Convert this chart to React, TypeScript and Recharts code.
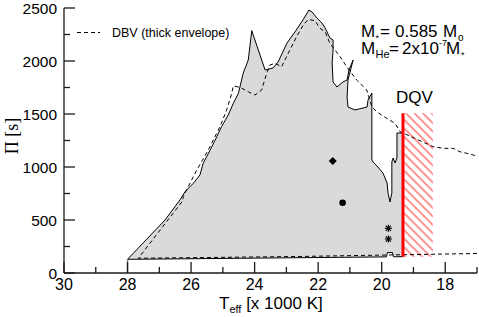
import React from "react";
import { Area, ComposedChart, Line, Scatter, XAxis, YAxis } from "recharts";

const FONT = "'Liberation Sans', Arial, Helvetica, sans-serif";
const SERIF = "'Liberation Serif', 'Times New Roman', serif";
const INK = "#1a1a1a";

// T_eff [x 1000 K] and period Pi [s]
const dbvThinOutline: [number, number][] = [
  [28.0, 129], [26.82, 500], [26.35, 689], [26.19, 767], [25.93, 846], [25.72, 925],
  [25.62, 1035], [25.4, 1160], [25.19, 1286], [25.04, 1380], [24.83, 1491], [24.67, 1601],
  [24.51, 1695], [24.46, 1758], [24.36, 1884], [24.2, 2009], [24.09, 2286], [23.67, 1915],
  [23.42, 1934], [23.26, 1991], [22.98, 2170], [22.73, 2274], [22.48, 2387], [22.29, 2481],
  [22.19, 2462], [22.04, 2406], [21.88, 2358], [21.78, 2311], [21.63, 2217], [21.53, 2198],
  [21.53, 2104], [21.56, 1981], [21.53, 1802], [21.41, 1755], [21.22, 1802], [21.09, 1821],
  [21.03, 1915], [20.9, 2009], [21.06, 1821], [21.09, 1660], [21.06, 1566], [20.84, 1538],
  [20.46, 1566], [20.43, 1632], [20.31, 1698], [20.31, 1066], [20.27, 1047], [20.12, 1000],
  [19.96, 943], [19.83, 849], [19.8, 755], [19.74, 670], [19.68, 755], [19.68, 1047],
  [19.64, 1085], [19.58, 1038], [19.52, 1085], [19.52, 1321], [19.39, 1321], [19.33, 1321],
  [19.33, 154], [19.63, 153], [19.66, 193], [19.82, 193], [19.85, 152], [28.0, 129],
];

const dbvThickEdge: [number, number][] = [
  [17.0, 184], [22.57, 156], [27.66, 139], [26.26, 682], [26.25, 720], [25.82, 972],
  [25.46, 1160], [25.09, 1380], [24.88, 1538], [24.72, 1695], [24.67, 1764], [24.46, 1752],
  [24.2, 1710], [23.99, 1679], [23.78, 1726], [23.62, 1884], [23.52, 1962], [23.36, 1978],
  [23.15, 1946], [22.89, 2104], [22.68, 2229], [22.47, 2340], [22.31, 2393], [22.1, 2380],
  [21.94, 2308], [21.78, 2276], [21.63, 2167], [21.31, 2041], [21.1, 1946], [20.79, 1821],
  [20.47, 1726], [20.31, 1569], [20.16, 1522], [19.84, 1459], [19.58, 1412], [19.42, 1333],
  [18.38, 1192], [18.06, 1176], [17.75, 1176], [17.54, 1144], [17.32, 1129], [17.12, 1113],
  [17.0, 1104],
];

const edgeStub: [number, number][] = [[28.0, 0], [28.0, 129]];

// DQV blue edge and its hatched band
const dqvBlueEdge: [number, number][] = [[19.33, 154], [19.33, 1507]];
const dqvBand: [number, number][] = [[19.33, 1507], [18.39, 1507]];
const dqvBandBase = 154;

const starDiamond: [number, number][] = [[21.54, 1057]];
const starCircle: [number, number][] = [[21.23, 663]];
const starAsterisk: [number, number][] = [[19.79, 422], [19.79, 321]];

const xTicks = [17, 18, 19, 20, 21, 22, 23, 24, 25, 26, 27, 28, 29, 30];
const yTicks = [0, 250, 500, 750, 1000, 1250, 1500, 1750, 2000, 2250, 2500];

const rows = (pts: [number, number][]) => pts.map(([T, P]) => ({ T, P }));

function BottomTick({ x, y, payload }: any) {
  const v = payload.value;
  const major = v % 2 === 0;
  return (
    <g>
      <line x1={x} x2={x} y1={y} y2={y - (major ? 11 : 6)} stroke={INK} strokeWidth={1.3} />
      {major && (
        <text x={x} y={y + 17} textAnchor="middle" fontSize={16} fontFamily={FONT} fill="#000">
          {v}
        </text>
      )}
    </g>
  );
}

function TopTick({ x, y, payload }: any) {
  const major = payload.value % 2 === 0;
  return <line x1={x} x2={x} y1={y} y2={y + (major ? 11 : 6)} stroke={INK} strokeWidth={1.3} />;
}

function LeftTick({ x, y, payload }: any) {
  const v = payload.value;
  const major = v % 500 === 0;
  return (
    <g>
      <line x1={x} x2={x + (major ? 11 : 6)} y1={y} y2={y} stroke={INK} strokeWidth={1.3} />
      {major && (
        <text x={x - 7} y={y} dy="0.36em" textAnchor="end" fontSize={15.5} fontFamily={FONT} fill="#000">
          {v}
        </text>
      )}
    </g>
  );
}

function RightTick({ x, y, payload }: any) {
  const major = payload.value % 500 === 0;
  return <line x1={x} x2={x - (major ? 11 : 6)} y1={y} y2={y} stroke={INK} strokeWidth={1.3} />;
}

const Diamond = ({ cx, cy }: any) => (
  <path d={`M${cx},${cy - 4}L${cx + 4},${cy}L${cx},${cy + 4}L${cx - 4},${cy}Z`} fill="#000" />
);
const Dot = ({ cx, cy }: any) => <circle cx={cx} cy={cy} r={3.3} fill="#000" />;
const Asterisk = ({ cx, cy }: any) => (
  <g stroke="#000" strokeWidth={1.2}>
    <line x1={cx - 3.5} x2={cx + 3.5} y1={cy} y2={cy} />
    <line x1={cx} x2={cx} y1={cy - 3.5} y2={cy + 3.5} />
    <line x1={cx - 2.6} x2={cx + 2.6} y1={cy - 2.6} y2={cy + 2.6} />
    <line x1={cx - 2.6} x2={cx + 2.6} y1={cy + 2.6} y2={cy - 2.6} />
  </g>
);

const frame = { stroke: INK, strokeWidth: 1.3 };

export default function App() {
  return (
    <div style={{ position: "absolute", left: 0, top: 0, background: "#fff" }}>
      <ComposedChart width={479} height={317} margin={{ top: 8, right: 2, bottom: 0, left: 0 }}>
        <defs>
          <pattern id="dqvHatch" patternUnits="userSpaceOnUse" width="6" height="6" patternTransform="rotate(-45)">
            <rect width="6" height="6" fill="#fff" />
            <line x1="3" y1="0" x2="3" y2="6" stroke="#ff4d4d" strokeWidth="1.2" />
          </pattern>
        </defs>

        <XAxis
          xAxisId="b"
          type="number"
          dataKey="T"
          domain={[17, 30]}
          reversed
          allowDataOverflow
          ticks={xTicks}
          interval={0}
          tick={<BottomTick />}
          tickLine={false}
          tickSize={0}
          tickMargin={0}
          height={44}
          axisLine={frame}
        />
        <XAxis
          xAxisId="t"
          orientation="top"
          type="number"
          domain={[17, 30]}
          reversed
          allowDataOverflow
          ticks={xTicks}
          interval={0}
          tick={<TopTick />}
          tickLine={false}
          tickSize={0}
          tickMargin={0}
          height={0}
          axisLine={frame}
        />
        <YAxis
          yAxisId="l"
          type="number"
          dataKey="P"
          domain={[0, 2500]}
          allowDataOverflow
          ticks={yTicks}
          interval={0}
          tick={<LeftTick />}
          tickLine={false}
          tickSize={0}
          tickMargin={0}
          width={64}
          axisLine={frame}
        />
        <YAxis
          yAxisId="r"
          orientation="right"
          type="number"
          domain={[0, 2500]}
          allowDataOverflow
          ticks={yTicks}
          interval={0}
          tick={<RightTick />}
          tickLine={false}
          tickSize={0}
          tickMargin={0}
          width={0}
          axisLine={frame}
        />

        <Area
          xAxisId="b"
          yAxisId="l"
          data={rows(dbvThinOutline)}
          dataKey="P"
          type="linear"
          baseValue={0}
          fill="#dadada"
          fillOpacity={1}
          stroke="#000"
          strokeWidth={1}
          dot={false}
          activeDot={false}
          isAnimationActive={false}
        />
        <Line
          xAxisId="b"
          yAxisId="l"
          data={rows(edgeStub)}
          dataKey="P"
          type="linear"
          stroke="#8a8a8a"
          strokeWidth={1.5}
          dot={false}
          activeDot={false}
          isAnimationActive={false}
        />
        <Line
          xAxisId="b"
          yAxisId="l"
          data={rows(dbvThickEdge)}
          dataKey="P"
          type="linear"
          stroke="#000"
          strokeWidth={1}
          strokeDasharray="4 3"
          dot={false}
          activeDot={false}
          isAnimationActive={false}
        />
        <Area
          xAxisId="b"
          yAxisId="l"
          data={rows(dqvBand)}
          dataKey="P"
          type="linear"
          baseValue={dqvBandBase}
          fill="url(#dqvHatch)"
          fillOpacity={1}
          stroke="none"
          dot={false}
          activeDot={false}
          isAnimationActive={false}
        />
        <Line
          xAxisId="b"
          yAxisId="l"
          data={rows(dqvBlueEdge)}
          dataKey="P"
          type="linear"
          stroke="#ff0000"
          strokeWidth={3}
          dot={false}
          activeDot={false}
          isAnimationActive={false}
        />
        <Scatter xAxisId="b" yAxisId="l" data={rows(starDiamond)} dataKey="P" shape={Diamond} isAnimationActive={false} />
        <Scatter xAxisId="b" yAxisId="l" data={rows(starCircle)} dataKey="P" shape={Dot} isAnimationActive={false} />
        <Scatter xAxisId="b" yAxisId="l" data={rows(starAsterisk)} dataKey="P" shape={Asterisk} isAnimationActive={false} />

        {/* legend */}
        <line x1={77} x2={100} y1={32.5} y2={32.5} stroke="#000" strokeWidth={1} strokeDasharray="4 3" />
        <text x={112} y={37} fontSize={12.5} fontFamily={FONT} fill="#000">
          DBV (thick envelope)
        </text>

        {/* model parameters */}
        <text y={37} fontSize={17} fontFamily={FONT} fill="#000">
          <tspan x={361}>M</tspan>
          <tspan x={375.5} dy={4} fontSize={9}>*</tspan>
          <tspan x={380} dy={-4}>=</tspan>
          <tspan x={395}>0.585</tspan>
          <tspan x={443}>M</tspan>
          <tspan x={458} dy={4} fontSize={10}>o</tspan>
        </text>
        <text y={53.5} fontSize={17} fontFamily={FONT} fill="#000">
          <tspan x={361}>M</tspan>
          <tspan x={375.5} dy={4} fontSize={11}>He</tspan>
          <tspan x={389} dy={-4}>=</tspan>
          <tspan x={402}>2x10</tspan>
          <tspan x={439} dy={-8} fontSize={9}>-7</tspan>
          <tspan x={446} dy={8}>M</tspan>
          <tspan x={461} dy={4} fontSize={9}>*</tspan>
        </text>

        <text x={414.5} y={103} textAnchor="middle" fontSize={17} fontFamily={FONT} fill="#000">
          DQV
        </text>
        <text x={273} y={180} textAnchor="middle" fontSize={19.5} fontFamily={FONT} fill="#000">
          DBV
        </text>
        <text x={272.5} y={196} textAnchor="middle" fontSize={13} fontFamily={FONT} fill="#000">
          (thick envelope)
        </text>

        {/* axis titles */}
        <text
          x={18}
          y={136}
          transform="rotate(-90 18 136)"
          textAnchor="middle"
          fontSize={18}
          fontFamily={SERIF}
          fill="#000"
        >
          Π [s]
        </text>
        <text y={309} fontSize={17} fontFamily={FONT} fill="#000">
          <tspan x={219}>T</tspan>
          <tspan dy={4} fontSize={11}>eff</tspan>
          <tspan dy={-4}> [x 1000 K]</tspan>
        </text>
      </ComposedChart>
    </div>
  );
}
